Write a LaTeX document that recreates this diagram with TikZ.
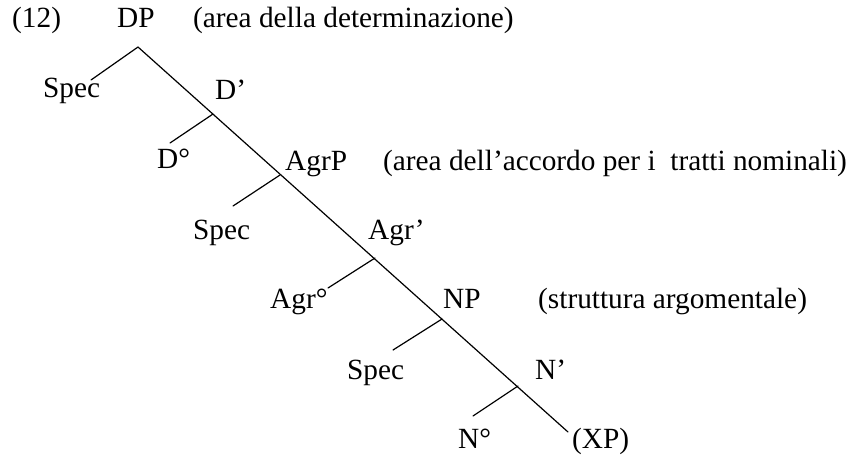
\documentclass[tikz,border=0pt]{standalone}
\usepackage{fontspec}
\setmainfont{Liberation Serif}
\usetikzlibrary{positioning}
\tikzset{
  catLabel/.style={
    inner sep=0pt, anchor=base west,
    font=\fontsize{29.3}{35}\selectfont
  },
  glossLabel/.style={
    catLabel
  },
  branch/.style={
    line width=1.2pt, line cap=round, color=black
  }
}

\begin{document}
\begin{tikzpicture}[x=1pt, y=-1pt]
  \useasboundingbox (0,0) rectangle (850,459);

  % labels
  \node[catLabel] (ex) at (12,27) {(12)};
  \node[catLabel] (dp) at (117,27) {DP};
  \node[glossLabel] (gDet) at (193,27) {(area della determinazione)};
  \node[catLabel] (spec1) at (43,97) {Spec};
  \node[catLabel] (dbar) at (215,99) {D’};
  \node[catLabel] (dhead) at (157,168) {D°};
  \node[catLabel] (agrp) at (285,170) {AgrP};
  \node[glossLabel] (gAgr) at (383,170) {(area dell’accordo per i \ tratti nominali)};
  \node[catLabel] (spec2) at (193,239) {Spec};
  \node[catLabel] (agrbar) at (368,239) {Agr’};
  \node[catLabel] (agrhead) at (270,308) {Agr°};
  \node[catLabel] (np) at (443,308) {NP};
  \node[glossLabel] (gArg) at (538,308) {(struttura argomentale)};
  \node[catLabel] (spec3) at (347,379) {Spec};
  \node[catLabel] (nbar) at (535,379) {N’};
  \node[catLabel] (nhead) at (458,448) {N°};
  \node[catLabel] (xp) at (572,448) {(XP)};

  % junctions on the spine
  \coordinate (jDP) at (138,47);
  \coordinate (jD) at (213,114);
  \coordinate (jAgrP) at (280,175);
  \coordinate (jAgr) at (375,258);
  \coordinate (jNP) at (442,319);
  \coordinate (jN) at (518,386);
  \coordinate (jXP) at (568,432);

  % ends of the left branches
  \coordinate (eSpec1) at (91,80);
  \coordinate (eD) at (170,143);
  \coordinate (eSpec2) at (233,206);
  \coordinate (eAgr) at (328,288);
  \coordinate (eSpec3) at (393,350);
  \coordinate (eN) at (473,416);

  % spine
  \draw[branch] (jDP) -- (jXP);

  % specifiers and heads
  \draw[branch] (jDP) -- (eSpec1);
  \draw[branch] (jD) -- (eD);
  \draw[branch] (jAgrP) -- (eSpec2);
  \draw[branch] (jAgr) -- (eAgr);
  \draw[branch] (jNP) -- (eSpec3);
  \draw[branch] (jN) -- (eN);

\end{tikzpicture}
\end{document}
